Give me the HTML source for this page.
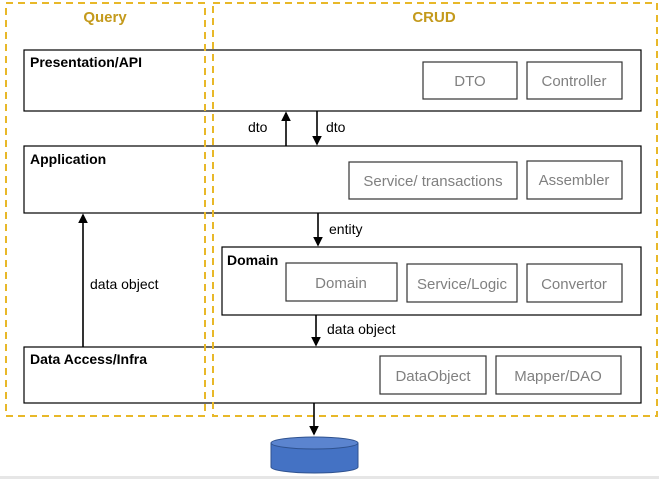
<!DOCTYPE html>
<html><head><meta charset="utf-8"><style>
body{margin:0;width:659px;height:479px;background:#fff;overflow:hidden;font-family:"Liberation Sans",sans-serif}
</style></head><body>
<svg width="659" height="479" xmlns="http://www.w3.org/2000/svg" font-family="Liberation Sans, sans-serif">
<defs><marker id="a" markerWidth="6" markerHeight="6" refX="5" refY="3" orient="auto"><path d="M0,0 L6,3 L0,6 z" fill="#000"/></marker></defs>
<rect x="0" y="476" width="659" height="3" fill="#e6e6e6"/>
<g fill="none" stroke="#000" stroke-width="1.2">
<rect x="24" y="50" width="617" height="61"/>
<rect x="24" y="146" width="617" height="67"/>
<rect x="222" y="247" width="419" height="68"/>
<rect x="24" y="347" width="617" height="56"/>
</g>
<g fill="none" stroke="#333" stroke-width="1.2">
<rect x="423" y="62" width="94" height="37"/>
<rect x="527" y="62" width="95" height="37"/>
<rect x="349" y="162" width="168" height="37"/>
<rect x="527" y="161" width="95" height="38"/>
<rect x="286" y="263" width="111" height="38"/>
<rect x="407" y="264" width="110" height="38"/>
<rect x="527" y="264" width="95" height="38"/>
<rect x="380" y="356" width="106" height="38"/>
<rect x="496" y="356" width="125" height="38"/>
</g>
<g fill="none" stroke="#e8b829" stroke-width="2" stroke-dasharray="7,5">
<rect x="6" y="3" width="199" height="413"/>
<rect x="213" y="3" width="444" height="413"/>
</g>
<g stroke="#000" stroke-width="1.6" marker-end="url(#a)">
<line x1="286" y1="146" x2="286" y2="113"/>
<line x1="317" y1="111" x2="317" y2="144"/>
<line x1="318" y1="213" x2="318" y2="245"/>
<line x1="316" y1="315" x2="316" y2="345"/>
<line x1="83" y1="347" x2="83" y2="215"/>
<line x1="314" y1="403" x2="314" y2="434"/>
</g>
<path d="M271,443 V467 A43.5,6 0 0 0 358,467 V443" fill="#4472c4" stroke="#2f528f"/>
<ellipse cx="314.5" cy="443" rx="43.5" ry="6" fill="#5b84cf" stroke="#2f528f"/>
<g font-size="15" font-weight="bold" fill="#c49a1c" text-anchor="middle">
<text x="105" y="22">Query</text><text x="434" y="22">CRUD</text>
</g>
<g font-size="14" font-weight="bold" fill="#000">
<text x="30" y="67">Presentation/API</text>
<text x="30" y="164">Application</text>
<text x="227" y="265">Domain</text>
<text x="30" y="364">Data Access/Infra</text>
</g>
<g font-size="14" fill="#000">
<text x="248" y="132">dto</text><text x="326" y="132">dto</text>
<text x="329" y="234">entity</text>
<text x="327" y="334">data object</text>
<text x="90" y="289">data object</text>
</g>
<g font-size="15" fill="#808080" text-anchor="middle">
<text x="470" y="86">DTO</text>
<text x="574" y="86">Controller</text>
<text x="433" y="186">Service/ transactions</text>
<text x="574" y="185">Assembler</text>
<text x="341" y="288">Domain</text>
<text x="462" y="289">Service/Logic</text>
<text x="574" y="289">Convertor</text>
<text x="433" y="381">DataObject</text>
<text x="558" y="381">Mapper/DAO</text>
</g>
</svg>
</body></html>
